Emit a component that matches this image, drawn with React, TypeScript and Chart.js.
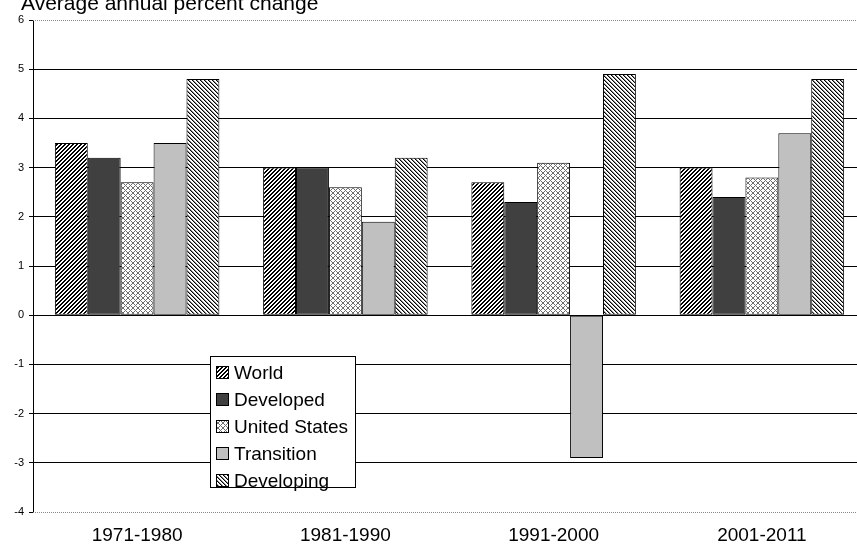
import React, { useEffect, useRef } from "react";
import { Chart, registerables } from "chart.js";

Chart.register(...registerables);

const categories = ["1971-1980", "1981-1990", "1991-2000", "2001-2011"];
const seriesNames = ["World", "Developed", "United States", "Transition", "Developing"];
const world = [3.5, 3.0, 2.7, 3.0];
const developed = [3.2, 3.0, 2.3, 2.4];
const unitedStates = [2.7, 2.6, 3.1, 2.8];
const transition = [3.5, 1.9, -2.9, 3.7];
const developing = [4.8, 3.2, 4.9, 4.8];
const yMin = -4;
const yMax = 6;
const titleText = "Average annual percent change";

const FONT = "'Liberation Sans', Arial, Helvetica, sans-serif";

function makePattern(
  ctx: CanvasRenderingContext2D,
  size: number,
  fn: (x: number, y: number) => string | null,
  bg = "#ffffff"
) {
  const c = document.createElement("canvas");
  c.width = size;
  c.height = size;
  const g = c.getContext("2d")!;
  g.fillStyle = bg;
  g.fillRect(0, 0, size, size);
  for (let x = 0; x < size; x++) {
    for (let y = 0; y < size; y++) {
      const col = fn(x, y);
      if (col) {
        g.fillStyle = col;
        g.fillRect(x, y, 1, 1);
      }
    }
  }
  return ctx.createPattern(c, "repeat") as CanvasPattern;
}

export default function App() {
  const ref = useRef<HTMLCanvasElement | null>(null);

  useEffect(() => {
    const canvas = ref.current!;
    const ctx = canvas.getContext("2d")!;

    const worldPat = makePattern(ctx, 4, (x, y) => ((x + y) % 4 < 2 ? "#000000" : null));
    const devPat = makePattern(ctx, 4, (x, y) => {
      const m = (((x - y) % 4) + 4) % 4;
      return m === 0 ? "#000000" : m === 1 ? "#8a8a8a" : null;
    });
    const usPat = makePattern(ctx, 5, (x, y) =>
      (x + y) % 5 === 0 || (((x - y) % 5) + 5) % 5 === 0 ? "#6e6e6e" : null
    );

    const fills: (string | CanvasPattern)[] = [worldPat, "#404040", usPat, "#c0c0c0", devPat];
    const values = [world, developed, unitedStates, transition, developing];

    const overlay = {
      id: "overlay",
      afterDraw(chart: any) {
        const c = chart.ctx as CanvasRenderingContext2D;
        const area = chart.chartArea;
        c.save();
        // plot area top and bottom border (dotted gray)
        c.strokeStyle = "#8a8a8a";
        c.lineWidth = 1;
        c.setLineDash([1, 1]);
        c.beginPath();
        c.moveTo(area.left, Math.round(area.top) + 0.5);
        c.lineTo(area.right, Math.round(area.top) + 0.5);
        c.moveTo(area.left, Math.round(area.bottom) + 0.5);
        c.lineTo(area.right, Math.round(area.bottom) + 0.5);
        c.stroke();
        c.setLineDash([]);

        // title
        c.fillStyle = "#000000";
        c.font = `21px ${FONT}`;
        c.textAlign = "left";
        c.textBaseline = "alphabetic";
        c.fillText(titleText, 21, 10);

        // legend
        const bx = 210.5, by = 356.5, bw = 145, bh = 131;
        c.fillStyle = "#ffffff";
        c.fillRect(bx, by, bw, bh);
        c.strokeStyle = "#000000";
        c.strokeRect(bx, by, bw, bh);
        chart.data.datasets.forEach((ds: any, i: number) => {
          const cy = 373 + i * 27;
          c.fillStyle = ds.backgroundColor;
          c.fillRect(217, cy - 6, 11, 11);
          c.strokeStyle = "#000000";
          c.strokeRect(216.5, cy - 6.5, 12, 12);
          c.fillStyle = "#000000";
          c.font = `19px ${FONT}`;
          c.textBaseline = "middle";
          c.fillText(ds.label, 234, cy + 1);
        });
        c.restore();
      },
    };

    const chart = new Chart(canvas, {
      type: "bar",
      data: {
        labels: categories,
        datasets: seriesNames.map((name, i) => ({
          label: name,
          data: values[i],
          backgroundColor: fills[i] as any,
          borderColor: "#000000",
          borderWidth: 1,
          borderSkipped: false,
          barPercentage: 1,
          categoryPercentage: 0.79,
        })),
      },
      options: {
        animation: false,
        responsive: false,
        maintainAspectRatio: false,
        devicePixelRatio: 1,
        layout: { padding: { top: 20, right: 0, left: 0, bottom: 0 } },
        plugins: {
          legend: { display: false },
          title: { display: false },
          tooltip: { enabled: false },
        },
        scales: {
          x: {
            grid: { display: false, drawTicks: false },
            border: { display: false },
            ticks: {
              color: "#000000",
              font: { family: FONT, size: 19 },
              padding: 12,
            },
            afterFit: (s: any) => {
              s.height = 32;
            },
          },
          y: {
            min: yMin,
            max: yMax,
            ticks: {
              stepSize: 1,
              color: "#000000",
              font: { family: FONT, size: 11 },
              padding: 5,
            },
            grid: {
              color: (c: any) =>
                c.tick && (c.tick.value === yMax || c.tick.value === yMin) ? "rgba(0,0,0,0)" : "#000000",
              tickColor: "#000000",
              tickLength: 4,
              lineWidth: 1,
            },
            border: { display: true, color: "#000000", width: 1 },
            afterFit: (s: any) => {
              s.width = 33;
            },
          },
        },
      },
      plugins: [overlay],
    });

    return () => chart.destroy();
  }, []);

  return (
    <div
      style={{
        position: "fixed",
        left: 0,
        top: 0,
        width: 857,
        height: 544,
        overflow: "hidden",
        background: "#ffffff",
      }}
    >
      <canvas ref={ref} width={866} height={544} style={{ width: 866, height: 544, display: "block" }} />
    </div>
  );
}
